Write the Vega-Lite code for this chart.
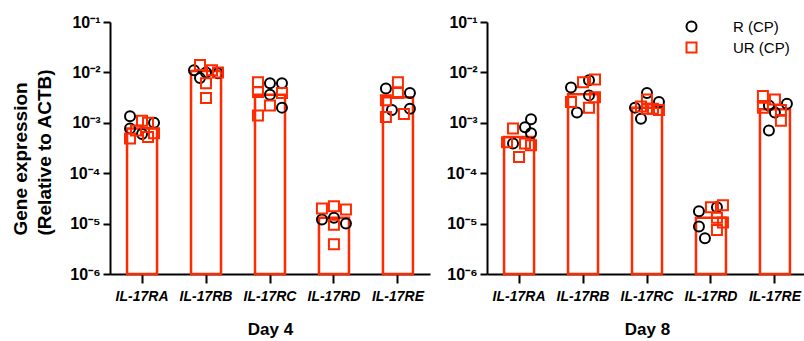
{
  "$schema": "https://vega.github.io/schema/vega-lite/v6.json",
  "padding": {"left": 11, "top": 14, "right": 0, "bottom": 5},
  "background": "white",
  "config": {
    "font": "Liberation Sans",
    "view": {"stroke": null},
    "axis": {"domainColor": "black", "domainWidth": 2, "tickColor": "black", "tickWidth": 2, "grid": false, "labelColor": "black", "titleColor": "black"}
  },
  "resolve": {"legend": {"shape": "independent", "stroke": "independent"}},
  "datasets": {
    "bars": [
      {"day": "Day 4", "gene": "IL-17RA", "mean": 0.00077},
      {"day": "Day 4", "gene": "IL-17RB", "mean": 0.0106},
      {"day": "Day 4", "gene": "IL-17RC", "mean": 0.0036},
      {"day": "Day 4", "gene": "IL-17RD", "mean": 0.000013},
      {"day": "Day 4", "gene": "IL-17RE", "mean": 0.0032},
      {"day": "Day 8", "gene": "IL-17RA", "mean": 0.00052},
      {"day": "Day 8", "gene": "IL-17RB", "mean": 0.0037},
      {"day": "Day 8", "gene": "IL-17RC", "mean": 0.002},
      {"day": "Day 8", "gene": "IL-17RD", "mean": 0.000013},
      {"day": "Day 8", "gene": "IL-17RE", "mean": 0.00185}
    ],
    "points": [
      {"day": "Day 4", "gene": "IL-17RA", "group": "R (CP)", "rep": 1, "value": 0.00135},
      {"day": "Day 4", "gene": "IL-17RA", "group": "R (CP)", "rep": 5, "value": 0.001},
      {"day": "Day 4", "gene": "IL-17RA", "group": "R (CP)", "rep": 1, "value": 0.00077},
      {"day": "Day 4", "gene": "IL-17RA", "group": "R (CP)", "rep": 3, "value": 0.0006},
      {"day": "Day 4", "gene": "IL-17RB", "group": "R (CP)", "rep": 1, "value": 0.011},
      {"day": "Day 4", "gene": "IL-17RB", "group": "R (CP)", "rep": 2, "value": 0.0077},
      {"day": "Day 4", "gene": "IL-17RB", "group": "R (CP)", "rep": 5, "value": 0.0096},
      {"day": "Day 4", "gene": "IL-17RB", "group": "R (CP)", "rep": 3, "value": 0.01},
      {"day": "Day 4", "gene": "IL-17RC", "group": "R (CP)", "rep": 3, "value": 0.0061},
      {"day": "Day 4", "gene": "IL-17RC", "group": "R (CP)", "rep": 5, "value": 0.0061},
      {"day": "Day 4", "gene": "IL-17RC", "group": "R (CP)", "rep": 3, "value": 0.0036},
      {"day": "Day 4", "gene": "IL-17RC", "group": "R (CP)", "rep": 5, "value": 0.002},
      {"day": "Day 4", "gene": "IL-17RD", "group": "R (CP)", "rep": 1, "value": 0.000012},
      {"day": "Day 4", "gene": "IL-17RD", "group": "R (CP)", "rep": 3, "value": 0.000013},
      {"day": "Day 4", "gene": "IL-17RD", "group": "R (CP)", "rep": 5, "value": 0.00001},
      {"day": "Day 4", "gene": "IL-17RE", "group": "R (CP)", "rep": 1, "value": 0.0048},
      {"day": "Day 4", "gene": "IL-17RE", "group": "R (CP)", "rep": 5, "value": 0.0039},
      {"day": "Day 4", "gene": "IL-17RE", "group": "R (CP)", "rep": 2, "value": 0.0018},
      {"day": "Day 4", "gene": "IL-17RE", "group": "R (CP)", "rep": 5, "value": 0.0019},
      {"day": "Day 8", "gene": "IL-17RA", "group": "R (CP)", "rep": 5, "value": 0.00117},
      {"day": "Day 8", "gene": "IL-17RA", "group": "R (CP)", "rep": 5, "value": 0.00062},
      {"day": "Day 8", "gene": "IL-17RA", "group": "R (CP)", "rep": 4, "value": 0.00082},
      {"day": "Day 8", "gene": "IL-17RA", "group": "R (CP)", "rep": 2, "value": 0.00039},
      {"day": "Day 8", "gene": "IL-17RB", "group": "R (CP)", "rep": 1, "value": 0.005},
      {"day": "Day 8", "gene": "IL-17RB", "group": "R (CP)", "rep": 4, "value": 0.007},
      {"day": "Day 8", "gene": "IL-17RB", "group": "R (CP)", "rep": 4, "value": 0.0035},
      {"day": "Day 8", "gene": "IL-17RB", "group": "R (CP)", "rep": 2, "value": 0.0016},
      {"day": "Day 8", "gene": "IL-17RC", "group": "R (CP)", "rep": 3, "value": 0.0039},
      {"day": "Day 8", "gene": "IL-17RC", "group": "R (CP)", "rep": 5, "value": 0.0026},
      {"day": "Day 8", "gene": "IL-17RC", "group": "R (CP)", "rep": 2, "value": 0.0012},
      {"day": "Day 8", "gene": "IL-17RC", "group": "R (CP)", "rep": 1, "value": 0.002},
      {"day": "Day 8", "gene": "IL-17RD", "group": "R (CP)", "rep": 1, "value": 0.0000175},
      {"day": "Day 8", "gene": "IL-17RD", "group": "R (CP)", "rep": 1, "value": 0.0000088},
      {"day": "Day 8", "gene": "IL-17RD", "group": "R (CP)", "rep": 2, "value": 0.0000051},
      {"day": "Day 8", "gene": "IL-17RD", "group": "R (CP)", "rep": 4, "value": 0.000021},
      {"day": "Day 8", "gene": "IL-17RE", "group": "R (CP)", "rep": 5, "value": 0.0024},
      {"day": "Day 8", "gene": "IL-17RE", "group": "R (CP)", "rep": 3, "value": 0.0016},
      {"day": "Day 8", "gene": "IL-17RE", "group": "R (CP)", "rep": 2, "value": 0.0007},
      {"day": "Day 8", "gene": "IL-17RE", "group": "R (CP)", "rep": 2, "value": 0.0022},
      {"day": "Day 4", "gene": "IL-17RA", "group": "UR (CP)", "rep": 3, "value": 0.0011},
      {"day": "Day 4", "gene": "IL-17RA", "group": "UR (CP)", "rep": 4, "value": 0.001},
      {"day": "Day 4", "gene": "IL-17RA", "group": "UR (CP)", "rep": 1, "value": 0.00049},
      {"day": "Day 4", "gene": "IL-17RA", "group": "UR (CP)", "rep": 4, "value": 0.00052},
      {"day": "Day 4", "gene": "IL-17RA", "group": "UR (CP)", "rep": 5, "value": 0.00062},
      {"day": "Day 4", "gene": "IL-17RA", "group": "UR (CP)", "rep": 2, "value": 0.0007},
      {"day": "Day 4", "gene": "IL-17RB", "group": "UR (CP)", "rep": 2, "value": 0.014},
      {"day": "Day 4", "gene": "IL-17RB", "group": "UR (CP)", "rep": 4, "value": 0.011},
      {"day": "Day 4", "gene": "IL-17RB", "group": "UR (CP)", "rep": 3, "value": 0.0061},
      {"day": "Day 4", "gene": "IL-17RB", "group": "UR (CP)", "rep": 3, "value": 0.0031},
      {"day": "Day 4", "gene": "IL-17RB", "group": "UR (CP)", "rep": 5, "value": 0.01},
      {"day": "Day 4", "gene": "IL-17RC", "group": "UR (CP)", "rep": 1, "value": 0.0064},
      {"day": "Day 4", "gene": "IL-17RC", "group": "UR (CP)", "rep": 1, "value": 0.0041},
      {"day": "Day 4", "gene": "IL-17RC", "group": "UR (CP)", "rep": 1, "value": 0.0014},
      {"day": "Day 4", "gene": "IL-17RC", "group": "UR (CP)", "rep": 3, "value": 0.0022},
      {"day": "Day 4", "gene": "IL-17RC", "group": "UR (CP)", "rep": 5, "value": 0.0039},
      {"day": "Day 4", "gene": "IL-17RD", "group": "UR (CP)", "rep": 1, "value": 0.00002},
      {"day": "Day 4", "gene": "IL-17RD", "group": "UR (CP)", "rep": 3, "value": 0.000022},
      {"day": "Day 4", "gene": "IL-17RD", "group": "UR (CP)", "rep": 5, "value": 0.000019},
      {"day": "Day 4", "gene": "IL-17RD", "group": "UR (CP)", "rep": 3, "value": 0.0000095},
      {"day": "Day 4", "gene": "IL-17RD", "group": "UR (CP)", "rep": 3, "value": 0.0000039},
      {"day": "Day 4", "gene": "IL-17RE", "group": "UR (CP)", "rep": 3, "value": 0.0064},
      {"day": "Day 4", "gene": "IL-17RE", "group": "UR (CP)", "rep": 1, "value": 0.0028},
      {"day": "Day 4", "gene": "IL-17RE", "group": "UR (CP)", "rep": 1, "value": 0.0013},
      {"day": "Day 4", "gene": "IL-17RE", "group": "UR (CP)", "rep": 4, "value": 0.0015},
      {"day": "Day 4", "gene": "IL-17RE", "group": "UR (CP)", "rep": 3, "value": 0.0039},
      {"day": "Day 8", "gene": "IL-17RA", "group": "UR (CP)", "rep": 2, "value": 0.00077},
      {"day": "Day 8", "gene": "IL-17RA", "group": "UR (CP)", "rep": 1, "value": 0.00041},
      {"day": "Day 8", "gene": "IL-17RA", "group": "UR (CP)", "rep": 3, "value": 0.00021},
      {"day": "Day 8", "gene": "IL-17RA", "group": "UR (CP)", "rep": 5, "value": 0.00036},
      {"day": "Day 8", "gene": "IL-17RA", "group": "UR (CP)", "rep": 4, "value": 0.00039},
      {"day": "Day 8", "gene": "IL-17RB", "group": "UR (CP)", "rep": 3, "value": 0.0064},
      {"day": "Day 8", "gene": "IL-17RB", "group": "UR (CP)", "rep": 5, "value": 0.0072},
      {"day": "Day 8", "gene": "IL-17RB", "group": "UR (CP)", "rep": 1, "value": 0.0026},
      {"day": "Day 8", "gene": "IL-17RB", "group": "UR (CP)", "rep": 4, "value": 0.002},
      {"day": "Day 8", "gene": "IL-17RB", "group": "UR (CP)", "rep": 5, "value": 0.0032},
      {"day": "Day 8", "gene": "IL-17RC", "group": "UR (CP)", "rep": 3, "value": 0.0029},
      {"day": "Day 8", "gene": "IL-17RC", "group": "UR (CP)", "rep": 2, "value": 0.0021},
      {"day": "Day 8", "gene": "IL-17RC", "group": "UR (CP)", "rep": 3, "value": 0.0019},
      {"day": "Day 8", "gene": "IL-17RC", "group": "UR (CP)", "rep": 4, "value": 0.0019},
      {"day": "Day 8", "gene": "IL-17RC", "group": "UR (CP)", "rep": 5, "value": 0.0018},
      {"day": "Day 8", "gene": "IL-17RD", "group": "UR (CP)", "rep": 3, "value": 0.000021},
      {"day": "Day 8", "gene": "IL-17RD", "group": "UR (CP)", "rep": 5, "value": 0.000023},
      {"day": "Day 8", "gene": "IL-17RD", "group": "UR (CP)", "rep": 4, "value": 0.000013},
      {"day": "Day 8", "gene": "IL-17RD", "group": "UR (CP)", "rep": 5, "value": 0.0000105},
      {"day": "Day 8", "gene": "IL-17RD", "group": "UR (CP)", "rep": 4, "value": 0.0000075},
      {"day": "Day 8", "gene": "IL-17RE", "group": "UR (CP)", "rep": 1, "value": 0.0034},
      {"day": "Day 8", "gene": "IL-17RE", "group": "UR (CP)", "rep": 3, "value": 0.0029},
      {"day": "Day 8", "gene": "IL-17RE", "group": "UR (CP)", "rep": 1, "value": 0.002},
      {"day": "Day 8", "gene": "IL-17RE", "group": "UR (CP)", "rep": 4, "value": 0.0018},
      {"day": "Day 8", "gene": "IL-17RE", "group": "UR (CP)", "rep": 4, "value": 0.0011}
    ]
  },
  "spacing": 16,
  "hconcat": [
    {
      "width": 320,
      "height": 252,
      "layer": [
        {
          "data": {"name": "bars"},
          "transform": [{"filter": "datum.day === 'Day 4'"}],
          "mark": {"type": "bar", "fill": "white", "stroke": "#fe2a00", "strokeWidth": 2.5, "width": 30},
          "encoding": {
            "x": {"field": "gene", "type": "nominal", "sort": null, "scale": {"paddingInner": 0.53, "paddingOuter": 0.266},
              "axis": {"title": "Day 4", "titleFontSize": 17, "titleFontWeight": "bold", "titlePadding": 18, "labelAngle": 0, "labelFontSize": 14, "labelFontWeight": "bold", "labelFontStyle": "italic", "labelPadding": 6, "tickSize": 9}},
            "y": {"field": "mean", "type": "quantitative", "scale": {"type": "log", "domain": [0.000001, 0.1]},
              "axis": {"title": ["Gene expression", "(Relative to ACTB)"], "titleFontSize": 19, "titleFontWeight": "bold", "titlePadding": 15, "titleLineHeight": 24, "titleAlign": "left", "titleY": 213, "values": [0.000001, 0.00001, 0.0001, 0.001, 0.01, 0.1], "labelExpr": "datum.value > 0.05 ? '10⁻¹' : datum.value > 0.005 ? '10⁻²' : datum.value > 0.0005 ? '10⁻³' : datum.value > 0.00005 ? '10⁻⁴' : datum.value > 0.000005 ? '10⁻⁵' : '10⁻⁶'", "labelFontSize": 16, "labelFontWeight": "bold", "labelPadding": 3, "tickSize": 7}},
            "y2": {"datum": 0.000001}
          }
        },
        {
          "data": {"name": "points"},
          "transform": [{"filter": "datum.day === 'Day 4'"}],
          "mark": {"type": "point", "filled": false, "strokeWidth": 2, "size": 100, "opacity": 1},
          "encoding": {
            "x": {"field": "gene", "type": "nominal", "sort": null},
            "xOffset": {"field": "rep", "type": "quantitative", "scale": {"domain": [1, 5], "range": [3, 27]}},
            "y": {"field": "value", "type": "quantitative"},
            "shape": {"field": "group", "type": "nominal", "scale": {"domain": ["R (CP)", "UR (CP)"], "range": ["circle", "square"]}, "legend": null},
            "stroke": {"field": "group", "type": "nominal", "scale": {"domain": ["R (CP)", "UR (CP)"], "range": ["black", "#fe2a00"]}, "legend": null}
          }
        }
      ]
    },
    {
      "width": 320,
      "height": 252,
      "layer": [
        {
          "data": {"name": "bars"},
          "transform": [{"filter": "datum.day === 'Day 8'"}],
          "mark": {"type": "bar", "fill": "white", "stroke": "#fe2a00", "strokeWidth": 2.5, "width": 30},
          "encoding": {
            "x": {"field": "gene", "type": "nominal", "sort": null, "scale": {"paddingInner": 0.53, "paddingOuter": 0.266},
              "axis": {"title": "Day 8", "titleFontSize": 17, "titleFontWeight": "bold", "titlePadding": 18, "labelAngle": 0, "labelFontSize": 14, "labelFontWeight": "bold", "labelFontStyle": "italic", "labelPadding": 6, "tickSize": 9}},
            "y": {"field": "mean", "type": "quantitative", "scale": {"type": "log", "domain": [0.000001, 0.1]},
              "axis": {"title": null, "values": [0.000001, 0.00001, 0.0001, 0.001, 0.01, 0.1], "labelExpr": "datum.value > 0.05 ? '10⁻¹' : datum.value > 0.005 ? '10⁻²' : datum.value > 0.0005 ? '10⁻³' : datum.value > 0.00005 ? '10⁻⁴' : datum.value > 0.000005 ? '10⁻⁵' : '10⁻⁶'", "labelFontSize": 16, "labelFontWeight": "bold", "labelPadding": 3, "tickSize": 7}},
            "y2": {"datum": 0.000001}
          }
        },
        {
          "data": {"name": "points"},
          "transform": [{"filter": "datum.day === 'Day 8'"}],
          "mark": {"type": "point", "filled": false, "strokeWidth": 2, "size": 100, "opacity": 1},
          "encoding": {
            "x": {"field": "gene", "type": "nominal", "sort": null},
            "xOffset": {"field": "rep", "type": "quantitative", "scale": {"domain": [1, 5], "range": [3, 27]}},
            "y": {"field": "value", "type": "quantitative"},
            "shape": {"field": "group", "type": "nominal", "scale": {"domain": ["R (CP)", "UR (CP)"], "range": ["circle", "square"]},
              "legend": {"title": null, "orient": "none", "legendX": 197, "legendY": -3, "labelFontSize": 15, "labelFont": "Liberation Sans", "symbolSize": 100, "symbolStrokeWidth": 2, "labelOffset": 34, "rowPadding": 2}},
            "stroke": {"field": "group", "type": "nominal", "scale": {"domain": ["R (CP)", "UR (CP)"], "range": ["black", "#fe2a00"]},
              "legend": {"title": null, "orient": "none", "legendX": 197, "legendY": -3, "labelFontSize": 15, "labelFont": "Liberation Sans", "symbolSize": 100, "symbolStrokeWidth": 2, "labelOffset": 34, "rowPadding": 2}}
          }
        }
      ]
    }
  ]
}
